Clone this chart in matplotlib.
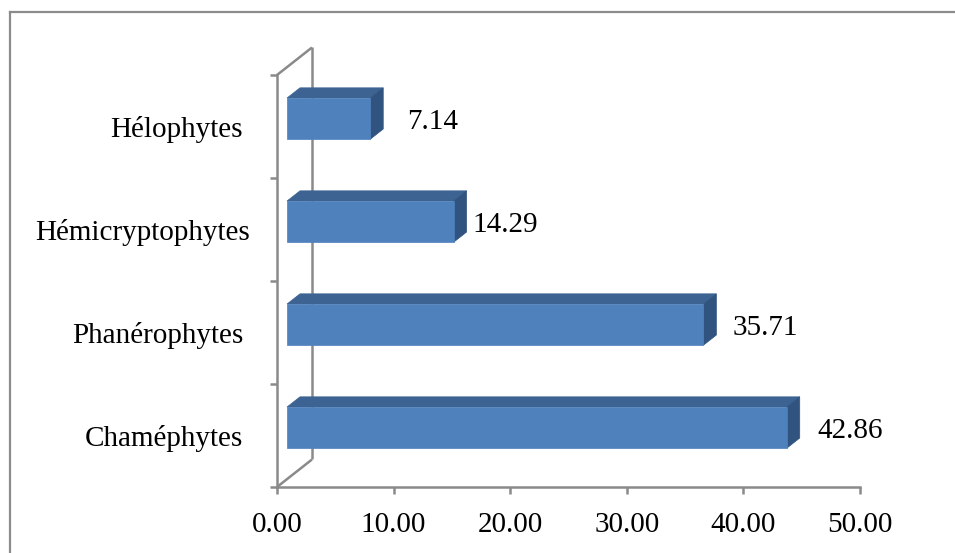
"""Life-form spectrum as an Excel-style 3D horizontal bar chart."""

import matplotlib

matplotlib.use("Agg")
import matplotlib.pyplot as plt
import matplotlib.patches as mpatches
import matplotlib.lines as mlines
import matplotlib.transforms as mtransforms

# ── data ────────────────────────────────────────────────────────────────────
categories = ["Chaméphytes", "Phanérophytes", "Hémicryptophytes", "Hélophytes"]
values = [42.86, 35.71, 14.29, 7.14]
x_ticks = [0, 10, 20, 30, 40, 50]

# ── style ───────────────────────────────────────────────────────────────────
plt.rcParams["font.family"] = ["Liberation Serif", "DejaVu Serif"]
FS = 21
AXIS_GREY = "#8a8a8a"
FRONT = "#4f81bd"
TOP = "#3c6392"
SIDE = "#30547f"
LW = 1.8

# depth of the 3D box in data units (x: value units, y: category units)
DEPTH_X = 3.0
DEPTH_Y = 0.267
F0, F1 = 0.286, 0.657  # bar front / back position inside the depth
BAR_H = 0.40
# label nudges (points) to the right of the bar end, as Excel placed them
label_dx = [29, 28.5, 20.5, 34]
# extra shift for category labels (px), Excel put one a bit to the right
cat_dx = [0, 0, 7, 0]

fig = plt.figure(figsize=(9.55, 5.53), dpi=100)
fig.patch.set_facecolor("white")
ax = fig.add_axes([277 / 955, 66 / 553, 583 / 955, 412 / 553])
ax.set_xlim(0, 50)
ax.set_ylim(0, len(categories))
ax.set_facecolor("none")

# outer chart-area border (runs off the right / bottom of the picture)
ytop = 1 - 12 / 553
xleft = 10 / 955
for xs, ys in (([xleft, 1.0], [ytop, ytop]), ([xleft, xleft], [0.0, ytop])):
    fig.add_artist(mlines.Line2D(xs, ys, color="#8c8c8c", lw=1.6,
                                 transform=fig.transFigure))

# back wall and floor edges of the 3D box
n = len(categories)
box_lines = [
    ([DEPTH_X, DEPTH_X], [DEPTH_Y, n + DEPTH_Y]),
    ([0, DEPTH_X], [0, DEPTH_Y]),
    ([0, DEPTH_X], [n, n + DEPTH_Y]),
]
for xs, ys in box_lines:
    ax.plot(xs, ys, color=AXIS_GREY, lw=LW, clip_on=False, zorder=1,
            solid_capstyle="butt")

# bars
for i, v in enumerate(values):
    y0 = i + 0.5 - BAR_H / 2
    y1 = i + 0.5 + BAR_H / 2
    ax0, ay0 = F0 * DEPTH_X, F0 * DEPTH_Y
    bx0, by0 = F1 * DEPTH_X, F1 * DEPTH_Y
    front = [(ax0, y0 + ay0), (v + ax0, y0 + ay0), (v + ax0, y1 + ay0), (ax0, y1 + ay0)]
    top = [(ax0, y1 + ay0), (v + ax0, y1 + ay0), (v + bx0, y1 + by0), (bx0, y1 + by0)]
    side = [(v + ax0, y0 + ay0), (v + bx0, y0 + by0), (v + bx0, y1 + by0), (v + ax0, y1 + ay0)]
    for pts, fc in ((top, TOP), (side, SIDE), (front, FRONT)):
        ax.add_patch(mpatches.Polygon(pts, closed=True, facecolor=fc, edgecolor=fc,
                                      lw=0.5, zorder=3, clip_on=False))
    ax.annotate(f"{v:.2f}", xy=(v, i + 0.5 + ay0), xytext=(label_dx[i], 0),
                textcoords="offset points", ha="left", va="center_baseline",
                fontsize=FS, color="black", annotation_clip=False, zorder=4)

# axes
for side_name in ("top", "right"):
    ax.spines[side_name].set_visible(False)
for side_name in ("bottom", "left"):
    ax.spines[side_name].set_color(AXIS_GREY)
    ax.spines[side_name].set_linewidth(LW)

ax.set_xticks(x_ticks)
ax.set_xticklabels([f"{t:.2f}" for t in x_ticks])
ax.tick_params(axis="x", direction="out", length=5, width=LW, color=AXIS_GREY,
               labelsize=FS, pad=13)

ax.set_yticks(range(n + 1))
ax.set_yticklabels([])
ax.set_yticks([i + 0.5 for i in range(n)], minor=True)
ax.set_yticklabels(categories, minor=True)
ax.tick_params(axis="y", which="major", direction="out", length=5, width=LW,
               color=AXIS_GREY)
ax.tick_params(axis="y", which="minor", length=0, labelsize=FS, pad=24.5)
for lab, dx in zip(ax.get_yticklabels(minor=True), cat_dx):
    lab.set_va("center_baseline")
    if dx:
        lab.set_transform(lab.get_transform() +
                          mtransforms.ScaledTranslation(dx / 100, 0, fig.dpi_scale_trans))

fig.savefig("out.png", dpi=100, facecolor="white")
plt.close(fig)
